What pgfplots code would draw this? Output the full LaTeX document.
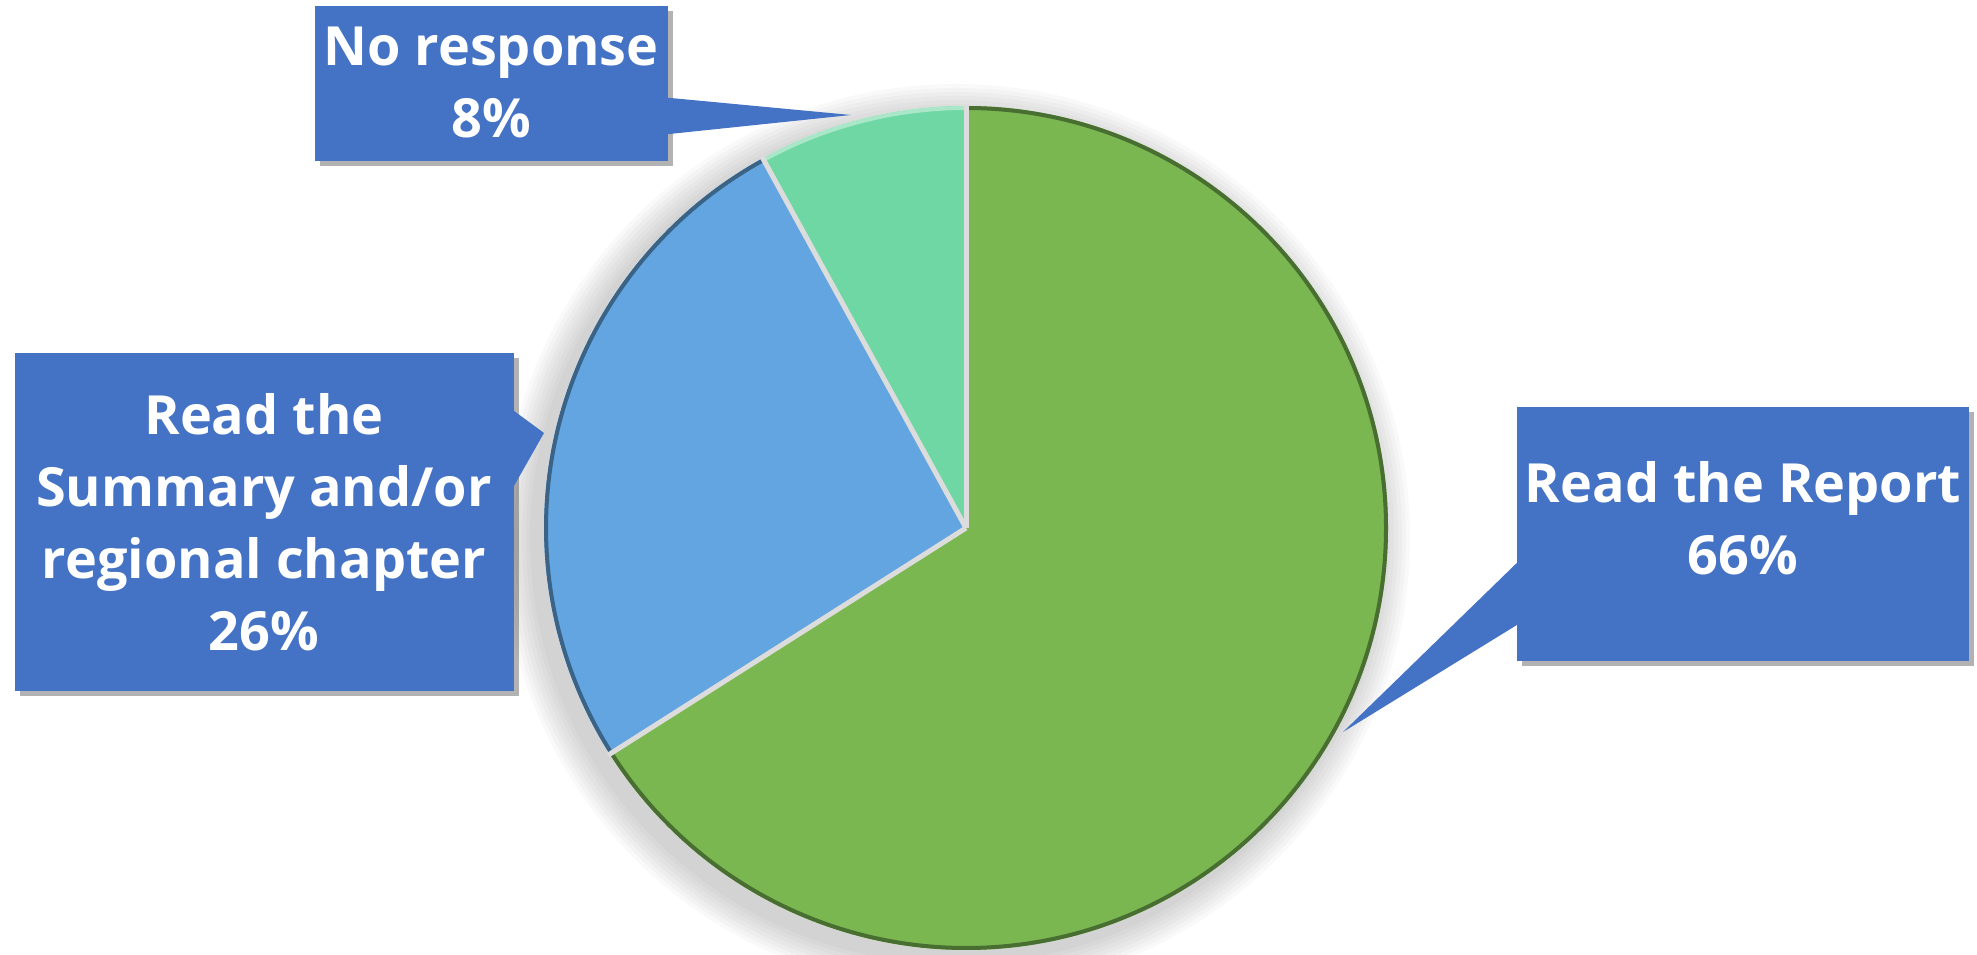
\documentclass[border=0pt]{standalone}
\usepackage{pgfplots}
\pgfplotsset{compat=1.18}
\usepackage{pgfplotstable}
\usepackage{fontspec}
\setmainfont{Open Sans}
\usetikzlibrary{shadows}
\definecolor{cgreen}{HTML}{7AB751}
\definecolor{cblue}{HTML}{62A5E0}
\definecolor{cteal}{HTML}{6FD7A3}
\definecolor{cbox}{HTML}{4472C4}
\definecolor{cgap}{HTML}{DCDCDC}

\pgfplotstableread{
label value
Report 66
Summary 26
NoResponse 8
}\piedata

\begin{document}
\begin{tikzpicture}
\pgfplotstablegetelem{0}{value}\of\piedata \pgfmathsetmacro\va{\pgfplotsretval}
\pgfplotstablegetelem{1}{value}\of\piedata \pgfmathsetmacro\vb{\pgfplotsretval}
\pgfplotstablegetelem{2}{value}\of\piedata \pgfmathsetmacro\vc{\pgfplotsretval}
\pgfmathsetmacro\aA{90}
\pgfmathsetmacro\aB{90-3.6*\va}
\pgfmathsetmacro\aC{\aB-3.6*\vb}
\pgfmathsetmacro\aD{\aC-3.6*\vc}
\def\R{422pt}
\def\Ri{420pt}
\tikzset{lbl/.style={text=white, font=\bfseries\fontsize{54}{72}\selectfont, align=center, inner sep=0pt},
  box/.style={fill=cbox, inner sep=0pt, anchor=north west,
    drop shadow={shadow xshift=5pt, shadow yshift=-5pt, opacity=0.3, fill=black}}}
\begin{axis}[x=1pt,y=1pt,xmin=0,xmax=1977,ymin=0,ymax=955,hide axis,clip=false,scale only axis]
\path (axis cs:0,0) rectangle (axis cs:1977,955);
% soft shadow of the pie
\pgfplotsinvokeforeach{426,430,434,438,442,446,450,454}{
  \fill[overlay, black, opacity=0.025] (axis cs:956,417) circle[radius=#1pt];
}
\fill[white] (axis cs:966,427) circle[radius=\R];
% slices
\fill[cgreen] (axis cs:966,427) -- ++(\aA:\R) arc[start angle=\aA, end angle=\aB, radius=\R] -- cycle;
\fill[cblue] (axis cs:966,427) -- ++(\aB:\R) arc[start angle=\aB, end angle=\aC, radius=\R] -- cycle;
\fill[cteal] (axis cs:966,427) -- ++(\aC:\R) arc[start angle=\aC, end angle=\aD, radius=\R] -- cycle;
% bevel edges
\draw[cgreen!60!black, line width=4pt] (axis cs:966,427) ++(\aA:\Ri) arc[start angle=\aA, end angle=\aB, radius=\Ri];
\draw[cblue!60!black, line width=4pt] (axis cs:966,427) ++(\aB:\Ri) arc[start angle=\aB, end angle=\aC, radius=\Ri];
\draw[cteal!60!white, line width=4pt] (axis cs:966,427) ++(\aC:\Ri) arc[start angle=\aC, end angle=\aD, radius=\Ri];
% separators
\draw[cgap, line width=5pt] (axis cs:966,427) -- ++(\aA:424pt);
\draw[cgap, line width=5pt] (axis cs:966,427) -- ++(\aB:424pt);
\draw[cgap, line width=5pt] (axis cs:966,427) -- ++(\aC:424pt);
% boxes
\node[box, minimum width=353pt, minimum height=155pt] at (axis cs:315,949) {};
\node[box, minimum width=499pt, minimum height=338pt] at (axis cs:15,602) {};
\node[box, minimum width=452pt, minimum height=254pt] at (axis cs:1517,548) {};
% pointers
\fill[cbox] (axis cs:660,858) -- (axis cs:851,840) -- (axis cs:660,820) -- cycle;
\fill[cbox] (axis cs:510,547) -- (axis cs:544,522) -- (axis cs:510,462) -- cycle;
\fill[cbox] (axis cs:1525,400) -- (axis cs:1343,223) -- (axis cs:1525,335) -- cycle;
% labels
\node[lbl] at (axis cs:491,872) {No response\\8\%};
\node[lbl] at (axis cs:264,433) {Read the\\Summary and/or\\regional chapter\\26\%};
\node[lbl] at (axis cs:1743,437) {Read the Report\\66\%};
\end{axis}
\end{tikzpicture}
\end{document}
